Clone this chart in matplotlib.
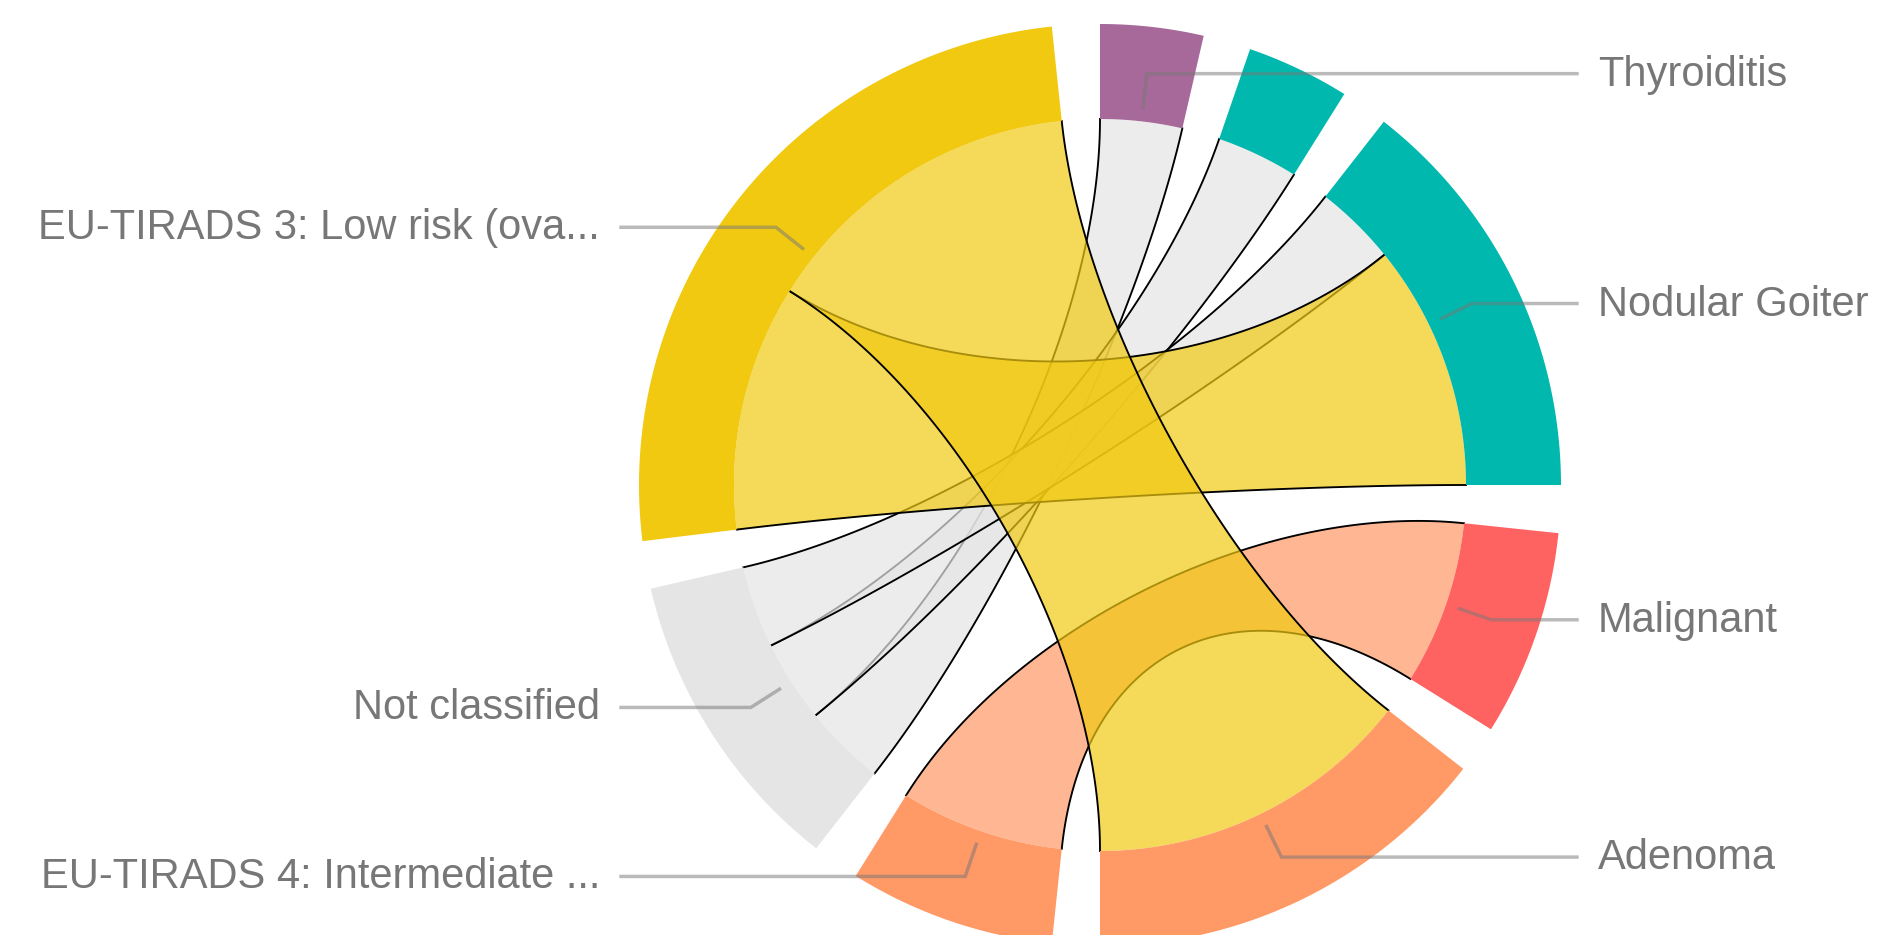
import numpy as np
import matplotlib.pyplot as plt
from matplotlib.patches import Polygon

# nodes, clockwise from 12 o'clock
names = ['Thyroiditis', 'Other', 'Nodular Goiter', 'Malignant', 'Adenoma',
         'EU-TIRADS 4: Intermediate ...', 'Not classified',
         'EU-TIRADS 3: Low risk (ova...']
show_label = [True, False, True, True, True, True, True, True]
colors = ['#a66999', '#00b8ad', '#00b8ad', '#ff6361', '#ff9966',
          '#ff9966', '#e5e5e5', '#f1c911']

# links (drawn in this order)
source = ['Not classified', 'Not classified', 'Not classified',
          'EU-TIRADS 4: Intermediate ...',
          'EU-TIRADS 3: Low risk (ova...', 'EU-TIRADS 3: Low risk (ova...']
target = ['Thyroiditis', 'Other', 'Nodular Goiter', 'Malignant',
          'Nodular Goiter', 'Adenoma']
value = [1, 1, 1, 2, 3, 4]

cx, cy = 1100, 485
r_in, r_out = 366, 461
pad = 6.0
start = 90.0
ctrl = 0.55

n = len(names)
idx = {nm: i for i, nm in enumerate(names)}
src = [idx[s] for s in source]
tgt = [idx[t] for t in target]

size = np.zeros(n)
for s, t, v in zip(src, tgt, value):
    size[s] += v
    size[t] += v
unit = (360 - n * pad) / size.sum()

a0 = np.zeros(n)
a1 = np.zeros(n)
a = start
for i in range(n):
    a0[i] = a
    a1[i] = a - size[i] * unit
    a = a1[i] - pad

# sub arcs of each link on both ends, ordered by the other node
sub = {}
for i in range(n):
    ends = []
    for k, (s, t) in enumerate(zip(src, tgt)):
        if s == i:
            ends.append((t, k))
        elif t == i:
            ends.append((s, k))
    ends.sort()
    a = a0[i]
    for other, k in ends:
        sub[(i, k)] = (a, a - value[k] * unit)
        a -= value[k] * unit


def pt(theta, r):
    th = np.radians(theta)
    return np.array([cx + r * np.cos(th), cy - r * np.sin(th)])


def arc(t0, t1, r, num=80):
    th = np.radians(np.linspace(t0, t1, num))
    return np.column_stack([cx + r * np.cos(th), cy - r * np.sin(th)])


def bez(p0, p3, num=120):
    o = np.array([cx, cy])
    p1 = p0 + ctrl * (o - p0)
    p2 = p3 + ctrl * (o - p3)
    t = np.linspace(0, 1, num)[:, None]
    return ((1 - t) ** 3 * p0 + 3 * (1 - t) ** 2 * t * p1
            + 3 * (1 - t) * t ** 2 * p2 + t ** 3 * p3)


fig = plt.figure(figsize=(18.8, 9.35), dpi=100)
ax = fig.add_axes([0, 0, 1, 1])
ax.set_xlim(0, 1880)
ax.set_ylim(935, 0)
ax.axis('off')

z = 2
for k, (s, t) in enumerate(zip(src, tgt)):
    s0, s1 = sub[(s, k)]
    t0, t1 = sub[(t, k)]
    c1 = bez(pt(s1, r_in), pt(t0, r_in))
    c2 = bez(pt(t1, r_in), pt(s0, r_in))
    poly = np.vstack([arc(s0, s1, r_in), c1, arc(t0, t1, r_in), c2])
    ax.add_patch(Polygon(poly, closed=True, facecolor=colors[s],
                         edgecolor='none', alpha=0.7, zorder=z))
    ax.plot(c1[:, 0], c1[:, 1], color='black', lw=1.35, zorder=z + 0.5)
    ax.plot(c2[:, 0], c2[:, 1], color='black', lw=1.35, zorder=z + 0.5)
    z += 1

for i in range(n):
    ring = np.vstack([arc(a0[i], a1[i], r_out), arc(a1[i], a0[i], r_in)])
    ax.add_patch(Polygon(ring, closed=True, facecolor=colors[i],
                         edgecolor='none', zorder=20))

for i in range(n):
    if not show_label[i]:
        continue
    mid = (a0[i] + a1[i]) / 2
    p1 = pt(mid, 380)
    p2 = pt(mid, 414)
    right = np.cos(np.radians(mid)) >= 0
    xe = cx + 477 if right else cx - 479
    xt = cx + 498 if right else cx - 500
    ax.plot([p1[0], p2[0], xe], [p1[1], p2[1], p2[1]], color='#777777',
            alpha=0.5, lw=2.5, zorder=30, solid_joinstyle='miter')
    ax.text(xt, p2[1] + 1, names[i], ha='left' if right else 'right',
            va='center', fontsize=30, color='#777777',
            family=['Liberation Sans', 'DejaVu Sans'], zorder=31)

fig.savefig('out.png', dpi=100)
